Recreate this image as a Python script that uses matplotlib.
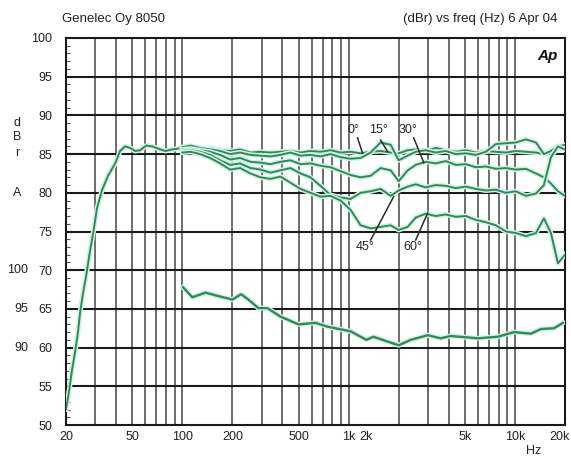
import matplotlib
matplotlib.use("Agg")
import matplotlib.pyplot as plt
import matplotlib.patheffects as pe
import matplotlib.transforms as mtrans

plt.rcParams['font.family'] = ['Liberation Sans', 'DejaVu Sans']

# on-axis response below 100 Hz (Hz, dBrA)
freq_low = [20, 20.9, 21.7, 22.7, 23.6, 24.3, 25.3, 26.4, 27.9, 29.5, 30.7, 33.0,
            35.8, 39.5, 42.3, 45.3, 48.6, 52.1, 55.8, 60.7, 66.0, 71.7, 79.0, 87.0]
deg0_low = [52.0, 54.5, 57.0, 59.5, 62.0, 64.5, 67.0, 69.2, 72.5, 75.5, 78.0, 80.4,
            82.2, 83.8, 85.4, 86.0, 85.8, 85.4, 85.5, 86.1, 86.0, 85.7, 85.4, 85.6]

# off-axis set, 100 Hz .. 20 kHz
freq = [100, 112, 128, 147, 169, 194, 223, 257, 295, 339, 389, 447, 514, 590,
        678, 779, 895, 1028, 1181, 1357, 1559, 1791, 2000, 2266, 2532, 2908,
        3341, 3838, 4409, 5066, 5820, 6686, 7680, 8822, 10135, 11643, 13375,
        14938, 16460, 18138, 20000]
deg0 = [85.8, 85.9, 85.7, 85.8, 85.5, 85.4, 85.6, 85.2, 85.3, 85.2,
        85.3, 85.4, 85.2, 85.4, 85.3, 85.5, 85.2, 85.3, 85.1, 85.3,
        85.4, 85.2, 85.1, 85.5, 85.6, 85.4, 85.8, 85.5, 85.3, 85.5,
        85.2, 85.4, 85.3, 85.2, 85.4, 85.3, 85.2, 85.0, 85.5, 86.0, 85.9]
deg15 = [85.9, 86.1, 85.8, 85.6, 85.4, 85.0, 85.2, 84.9, 84.8, 84.7,
         84.9, 85.2, 84.8, 84.9, 84.7, 85.0, 84.6, 84.4, 84.5, 85.2,
         86.5, 86.2, 84.2, 84.8, 85.3, 85.5, 85.2, 85.4, 85.0, 85.1,
         84.9, 85.3, 86.3, 86.4, 86.5, 86.9, 86.5, 85.0, 85.4, 86.0, 86.2]
deg30 = [85.6, 85.7, 85.5, 85.3, 84.9, 84.3, 84.5, 84.0, 83.9, 83.7,
         84.0, 84.2, 83.7, 83.8, 83.5, 83.3, 82.8, 82.3, 82.0, 82.2,
         83.2, 82.9, 81.5, 82.9, 83.6, 84.0, 83.8, 84.1, 83.6, 83.7,
         83.3, 83.4, 83.1, 83.2, 83.0, 83.1, 82.5, 82.0, 81.2, 80.2, 79.6]
deg45 = [85.4, 85.5, 85.3, 84.9, 84.2, 83.6, 83.8, 83.2, 83.0, 82.6,
         82.9, 83.2, 82.5, 82.0, 80.9, 79.7, 79.4, 79.2, 80.0, 80.2,
         80.5, 79.6, 80.3, 80.8, 81.1, 80.7, 81.0, 80.9, 80.6, 80.8,
         80.5, 80.3, 80.4, 80.0, 80.2, 79.6, 79.9, 81.0, 84.6, 86.0, 85.6]
deg60 = [85.2, 85.3, 85.0, 84.5, 83.8, 83.0, 83.2, 82.5, 82.0, 81.8,
         82.1, 81.3, 80.5, 80.0, 79.5, 79.6, 79.0, 77.8, 75.8, 75.4,
         75.6, 75.8, 75.2, 75.6, 76.8, 77.3, 77.0, 77.2, 76.9, 77.0,
         76.5, 76.2, 75.8, 75.0, 74.8, 74.4, 74.8, 76.7, 74.8, 70.9, 72.0]

# lower trace (read on the left scale)
freq_b = [101, 115, 138, 162, 200, 226, 250, 287, 325, 390, 500, 632, 747, 1030,
          1280, 1410, 2000, 2360, 2990, 3580, 4110, 5980, 7890, 9860, 12480,
          14330, 17180, 19460]
lower = [67.8, 66.5, 67.1, 66.7, 66.2, 66.9, 66.2, 65.1, 65.1, 64.0, 63.0, 63.2,
         62.7, 62.1, 61.0, 61.4, 60.3, 61.0, 61.6, 61.2, 61.5, 61.2, 61.4, 62.0,
         61.8, 62.4, 62.5, 63.2]

xtick_pos = [20, 50, 100, 200, 500, 1000, 1265, 5000, 10000, 20000]
xtick_lab = ['20', '50', '100', '200', '500', '1k', '2k', '5k', '10k', '20k']
ytick_pos = [50, 55, 60, 65, 70, 75, 80, 85, 90, 95, 100]
y2_pos = [70, 65, 60]
y2_lab = ['100', '95', '90']

green = '#2e8a5e'
halo = [pe.Stroke(linewidth=3.6, foreground='#d3f2e2'), pe.Normal()]

fig = plt.figure(figsize=(5.71, 4.59), dpi=100)
ax = fig.add_axes([66 / 571, 1 - 425 / 459, 499 / 571, 387 / 459])
ax.set_xscale('log')
ax.set_xlim(20, 20000)
ax.set_ylim(50, 100)

# grid
vlines = []
for dec in [10, 100, 1000, 10000]:
    for m in range(1, 10):
        f = dec * m
        if 20 < f < 20000:
            vlines.append(f)
for f in vlines:
    ax.axvline(f, color='#555555', lw=1.2, zorder=1)
for y in ytick_pos[1:-1]:
    ax.axhline(y, color='#1a1a1a', lw=1.5, zorder=1)
for s in ax.spines.values():
    s.set_color('#1a1a1a')
    s.set_linewidth(1.5)

ax.plot(freq_low + freq, deg0_low + deg0, color=green, lw=1.4, path_effects=halo, zorder=3)
for ser in [deg15, deg30, deg45, deg60]:
    ax.plot(freq, ser, color=green, lw=1.4, path_effects=halo, zorder=3)
ax.plot(freq_b, lower, color=green, lw=1.7, path_effects=halo, zorder=3)

ax.set_xticks(xtick_pos)
ax.set_xticklabels(xtick_lab)
ax.xaxis.set_minor_locator(plt.NullLocator())
ax.tick_params(axis='x', length=0, pad=4, labelsize=9, colors='#222222')
# keep the last label inside the figure
last = ax.get_xticklabels()[-1]
last.set_transform(last.get_transform() + mtrans.ScaledTranslation(-5 / 100, 0, fig.dpi_scale_trans))
ax.set_yticks(ytick_pos)
ax.set_yticks(range(50, 101), minor=True)
ax.tick_params(axis='y', which='major', length=0, pad=10, labelsize=9, colors='#222222')
ax.tick_params(axis='y', which='minor', direction='in', length=3, width=0.8, color='#555555')

tr = ax.get_yaxis_transform()
for yv, lab in zip(y2_pos, y2_lab):
    ax.text(-0.076, yv, lab, transform=tr, ha='right', va='center', fontsize=9, color='#222222')
for yv, ch in [(89.0, 'd'), (87.2, 'B'), (85.2, 'r'), (80.0, 'A')]:
    ax.text(-0.098, yv, ch, transform=tr, ha='center', va='center', fontsize=9, color='#222222')

ax.text(0.985, 0.953, 'Ap', transform=ax.transAxes, ha='right', va='center',
        fontsize=11, fontweight='bold', fontstyle='italic', color='#111111')

# angle labels with leader lines
notes = [('0°', (1071, 88.1), (1132, 87.1), (1214, 85.1)),
         ('15°', (1516, 88.1), (1559, 86.8), (1718, 85.3)),
         ('30°', (2266, 88.1), (2462, 87.1), (2830, 83.9)),
         ('45°', (1265, 73.0), (1357, 73.9), (1866, 79.5)),
         ('60°', (2428, 73.0), (2532, 73.9), (2990, 77.4))]
for lab, tp, p0, p1 in notes:
    ax.text(tp[0], tp[1], lab, ha='center', va='center', fontsize=9, color='#222222', zorder=5)
    ax.plot([p0[0], p1[0]], [p0[1], p1[1]], color='#2a2a2a', lw=1.1, zorder=4)

fig.text(62 / 571, 1 - 19 / 459, 'Genelec Oy 8050', ha='left', va='center',
         fontsize=9.5, color='#222222')
fig.text(557 / 571, 1 - 19 / 459, '(dBr) vs freq (Hz) 6 Apr 04', ha='right', va='center',
         fontsize=9.5, color='#222222')
fig.text(534 / 571, 2 / 459, 'Hz', ha='center', va='bottom', fontsize=9, color='#222222')

fig.savefig('out.png', dpi=100, facecolor='white')
